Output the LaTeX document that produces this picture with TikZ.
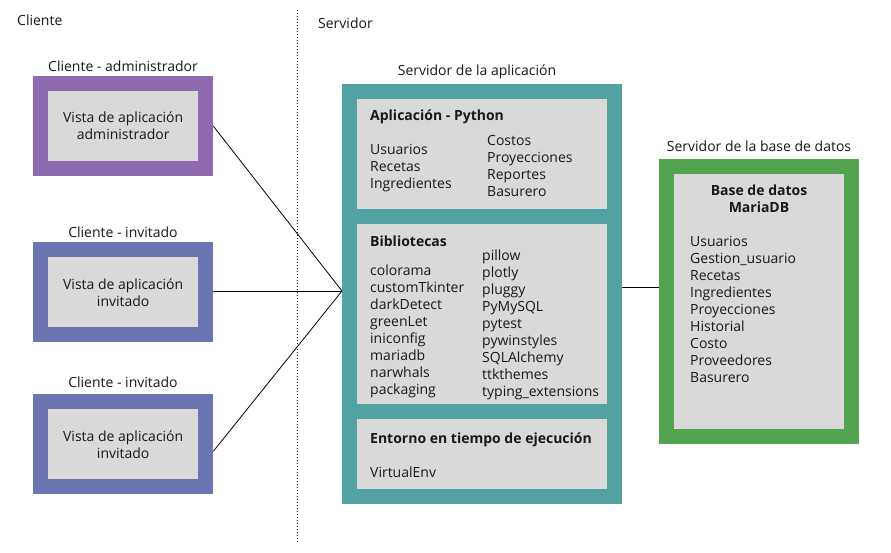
\documentclass[tikz,border=0pt]{standalone}
\usepackage{fontspec}
\setmainfont{Open Sans}
\definecolor{cadmin}{RGB}{142,107,176}
\definecolor{cguest}{RGB}{108,116,177}
\definecolor{capp}{RGB}{82,162,162}
\definecolor{cdb}{RGB}{84,163,80}
\definecolor{cin}{RGB}{217,217,217}
\begin{document}
\begin{tikzpicture}[x=1pt,y=-1pt,
  every node/.style={inner sep=0pt, font=\fontsize{14}{17}\selectfont, text=black!90},
  boxnode/.style={anchor=north west, minimum width=#1},
  lbl/.style={anchor=center},
  item/.style={anchor=base west},
  bold/.style={anchor=base west, font=\fontsize{14}{17}\selectfont\bfseries},
  conn/.style={draw=black, line width=0.8pt}
]
\fill[white] (0,0) rectangle (891,552);
\useasboundingbox (0,0) rectangle (891,552);

% headings
\node[anchor=base west] (tCli) at (17,25) {Cliente};
\node[anchor=base west] (tSrv) at (318,28) {Servidor};
\draw[line width=0.8pt, dash pattern=on 1pt off 2pt] (297,10) -- (297,542);

% clients
\node[boxnode=180pt, minimum height=100pt, fill=cadmin] (admO) at (33,76) {};
\node[boxnode=150pt, minimum height=70pt, fill=cin] (admI) at (48,91) {};
\node[lbl] (admL) at (123,66) {Cliente - administrador};
\node[lbl, align=center] (admT) at (admI.center) {Vista de aplicación\\administrador};

\node[boxnode=180pt, minimum height=100pt, fill=cguest] (g1O) at (33,242) {};
\node[boxnode=150pt, minimum height=70pt, fill=cin] (g1I) at (48,257) {};
\node[lbl] (g1L) at (123,232) {Cliente - invitado};
\node[lbl, align=center] (g1T) at (g1I.center) {Vista de aplicación\\invitado};

\node[boxnode=180pt, minimum height=100pt, fill=cguest] (g2O) at (33,394) {};
\node[boxnode=150pt, minimum height=70pt, fill=cin] (g2I) at (48,409) {};
\node[lbl] (g2L) at (123,382) {Cliente - invitado};
\node[lbl, align=center] (g2T) at (g2I.center) {Vista de aplicación\\invitado};

% app server
\node[boxnode=280pt, minimum height=420pt, fill=capp] (appO) at (342,84) {};
\node[lbl] (appL) at (477,72) {Servidor de la aplicación};
\node[boxnode=250pt, minimum height=110pt, fill=cin] (pyB) at (357,99) {};
\node[boxnode=250pt, minimum height=180pt, fill=cin] (libB) at (357,224) {};
\node[boxnode=250pt, minimum height=70pt, fill=cin] (envB) at (357,419) {};

\node[bold] (pyT) at (370,120) {Aplicación - Python};
\foreach \t [count=\i] in {Usuarios,Recetas,Ingredientes}
  \node[item] (pyL\i) at (370,{154+17*(\i-1)}) {\t};
\foreach \t [count=\i] in {Costos,Proyecciones,Reportes,Basurero}
  \node[item] (pyR\i) at (487,{145+17*(\i-1)}) {\t};

\node[bold] (libT) at (370,246) {Bibliotecas};
\foreach \t [count=\i] in {colorama,customTkinter,darkDetect,greenLet,iniconfig,mariadb,narwhals,packaging}
  \node[item] (libL\i) at (370,{275+17*(\i-1)}) {\t};
\foreach \t [count=\i] in {pillow,plotly,pluggy,PyMySQL,pytest,pywinstyles,SQLAlchemy,ttkthemes,typing\_extensions}
  \node[item] (libR\i) at (482,{260+17*(\i-1)}) {\t};

\node[bold] (envT) at (370,443) {Entorno en tiempo de ejecución};
\node[item] (envL) at (370,477) {VirtualEnv};

% db server
\node[boxnode=200pt, minimum height=285pt, fill=cdb] (dbO) at (659,159) {};
\node[boxnode=170pt, minimum height=255pt, fill=cin] (dbI) at (674,174) {};
\node[lbl] (dbL) at (759,146) {Servidor de la base de datos};
\node[anchor=base, font=\fontsize{14}{17}\selectfont\bfseries] (dbT1) at (759,195) {Base de datos};
\node[anchor=base, font=\fontsize{14}{17}\selectfont\bfseries] (dbT2) at (759,212) {MariaDB};
\foreach \t [count=\i] in {Usuarios,Gestion\_usuario,Recetas,Ingredientes,Proyecciones,Historial,Costo,Proveedores,Basurero}
  \node[item] (dbL\i) at (690,{246+17*(\i-1)}) {\t};

% connectors
\coordinate (hub) at (342,291);
\coordinate (dbc) at (622,287);
\draw[conn] (admO.east) -- (hub);
\draw[conn] (g1O.east |- hub) -- (hub);
\draw[conn] ([yshift=-7pt]g2O.east) -- (hub);
\draw[conn] (dbc) -- (dbc -| dbO.west);
\end{tikzpicture}
\end{document}
